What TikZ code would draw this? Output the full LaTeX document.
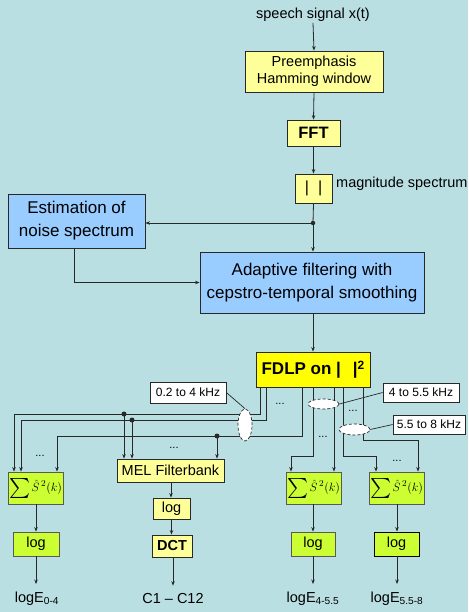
\documentclass[tikz,border=0pt]{standalone}
\usepackage{fontspec}
\setmainfont{Liberation Sans}
\usetikzlibrary{arrows.meta,calc,shapes.geometric}
\definecolor{bgc}{RGB}{186,223,227}
\definecolor{ylight}{RGB}{255,255,153}
\definecolor{ybright}{RGB}{255,255,0}
\definecolor{bluebox}{RGB}{153,204,255}
\definecolor{greenbox}{RGB}{204,255,51}
\definecolor{linec}{RGB}{40,40,40}
\begin{document}
\begin{tikzpicture}[x=1pt,y=-1pt,
  box/.style={draw=linec, line width=0.8pt, inner sep=0pt, align=center, font=\fontsize{14.5}{17.5}\selectfont},
  ybox/.style={box, fill=ylight},
  bbox/.style={box, fill=bluebox, font=\fontsize{17}{23}\selectfont},
  gbox/.style={box, fill=greenbox, draw=black!65},
  plain/.style={inner sep=1pt, font=\fontsize{14.5}{17.5}\selectfont},
  outlbl/.style={inner xsep=1pt, inner ysep=8pt, font=\fontsize{14.5}{17.5}\selectfont},
  arr/.style={-{Stealth[length=4.5pt,width=3.5pt]}, line width=0.8pt, draw=linec},
  ln/.style={line width=0.8pt, draw=linec},
  khz/.style={draw=linec, fill=white, line width=0.7pt, inner sep=0pt, font=\fontsize{12}{14}\selectfont},
  ell/.style={ellipse, draw=linec, densely dashed, fill=white, line width=0.7pt, inner sep=0pt},
  dts/.style={inner sep=0pt, font=\fontsize{11}{12}\selectfont},
  jdot/.style={circle, fill=linec, inner sep=0pt, minimum size=5pt}]
\useasboundingbox (0,0) rectangle (468,612);
\fill[bgc] (0,0) rectangle (468,612);

% top chain
\node[plain] (sig) at (313,15) {speech signal x(t)};
\node[ybox, minimum width=138, minimum height=41] (pre) at (314,71.5) {Preemphasis\\Hamming window};
\node[ybox, minimum width=53, minimum height=26, font=\fontsize{16.5}{20}\selectfont\bfseries] (fft) at (313.5,133) {FFT};
\node[ybox, minimum width=37, minimum height=29, font=\fontsize{16}{18}\selectfont] (mag) at (313.5,188.5) {|\hspace{9pt}|};
\node[plain, anchor=west] (magl) at (335,184) {magnitude spectrum};
\node[bbox, minimum width=137, minimum height=54] (est) at (76.5,221) {Estimation of\\noise spectrum};
\node[bbox, minimum width=224, minimum height=61] (ada) at (312,282.5) {Adaptive filtering with\\cepstro-temporal smoothing};
\node[box, fill=ybright, minimum width=114, minimum height=35, font=\fontsize{17}{20}\selectfont\bfseries] (fdlp) at (313,369.5) {FDLP on |\hspace{12pt}|\raisebox{5pt}{\fontsize{12}{12}\selectfont 2}};

\draw[arr] (sig.south) -- (pre.north);
\draw[arr] (pre.south) -- (fft.north);
\draw[arr] (fft.south) -- (mag.north);
\coordinate (j1) at (313,223);
\draw[ln] (mag.south) -- (j1);
\draw[arr] (j1) -- (ada.north -| j1);
\draw[arr] (j1) -- (est.east |- j1);
\node[jdot, minimum size=4.5pt] at (j1) {};
\draw[arr] (est.south -| 74,0) |- (ada.west);
\draw[arr] (ada.south -| 313,0) -- (fdlp.north -| 313,0);

% bottom boxes
\newcommand{\sumexpr}{\raisebox{-4pt}{\scalebox{2.0}{$\sum$}}\hspace{1.5pt}{\fontsize{12.5}{14}\selectfont$\hat{S}^{\,2}(k)$}}
\node[gbox, minimum width=55, minimum height=32] (s1) at (35.5,488) {\sumexpr};
\node[gbox, minimum width=55, minimum height=32] (s2) at (313.5,488) {\sumexpr};
\node[gbox, minimum width=55, minimum height=32] (s3) at (396.5,488) {\sumexpr};
\node[ybox, minimum width=107, minimum height=23] (mel) at (170.5,470.5) {MEL Filterbank};
\node[ybox, minimum width=37, minimum height=21] (mlog) at (171.5,508.5) {log};
\node[ybox, minimum width=40, minimum height=22, font=\fontsize{14.5}{17}\selectfont\bfseries] (dct) at (172,546) {DCT};
\node[gbox, minimum width=46, minimum height=24] (l1) at (36,544) {log};
\node[gbox, minimum width=44, minimum height=24] (l2) at (313,544) {log};
\node[gbox, minimum width=45, minimum height=24, draw=black] (l3) at (396.5,544) {log};

\node[outlbl] (o1) at (37,599) {logE\textsubscript{0-4}};
\node[outlbl] (o2) at (173,599) {C1 -- C12};
\node[outlbl] (o3) at (313,599) {logE\textsubscript{4-5.5}};
\node[outlbl] (o4) at (397,599) {logE\textsubscript{5.5-8}};

\draw[arr] (s1.south -| 36,0) -- (l1.north -| 36,0);
\draw[arr] (s2.south -| 313,0) -- (l2.north -| 313,0);
\draw[arr] (s3.south -| 397,0) -- (l3.north -| 397,0);
\draw[arr] (mel.south -| 171,0) -- (mlog.north -| 171,0);
\draw[arr] (mlog.south -| 171.5,0) -- (dct.north -| 171.5,0);
\draw[arr] (l1.south -| 36,0) -- (o1.north -| 36,0);
\draw[arr] (dct.south -| 173,0) -- (o2.north -| 173,0);
\draw[arr] (l2.south -| 313,0) -- (o3.north -| 313,0);
\draw[arr] (l3.south -| 397,0) -- (o4.north -| 397,0);

% branch lines left group
\draw[arr] (fdlp.south -| 260,0) |- (14,414) -- (s1.north -| 14,0);
\draw[arr] (fdlp.south -| 266,0) |- (21,420) -- (s1.north -| 21,0);
\draw[arr] (fdlp.south -| 302,0) |- (57,436) -- (s1.north -| 57,0);
\coordinate (d1) at (124,414);
\coordinate (d2) at (132,420);
\coordinate (d3) at (217,436);
\draw[arr] (d1) -- (mel.north -| d1);
\draw[arr] (d2) -- (mel.north -| d2);
\draw[arr] (d3) -- (mel.north -| d3);
\node[jdot] at (d1) {};
\node[jdot] at (d2) {};
\node[jdot] at (d3) {};

% branch lines right group
\draw[arr] (fdlp.south -| 313,0) |- (291,456) -- (s2.north -| 291,0);
\draw[arr] (fdlp.south -| 334,0) -- (s2.north -| 334,0);
\draw[arr] (fdlp.south -| 343,0) |- (376,456) -- (s3.north -| 376,0);
\draw[arr] (fdlp.south -| 363,0) |- (418,440) -- (s3.north -| 418,0);

% dots
\node[dts] (dA) at (280,404) {...};
\node[dts] (dB) at (40,456) {...};
\node[dts] (dC) at (174,448) {...};
\node[dts] (dD) at (323,437) {...};
\node[dts] (dE) at (353,411) {...};
\node[dts] (dF) at (397,461) {...};

% ellipses and labels
\node[ell, minimum width=14, minimum height=32] (e1) at (245,425) {};
\node[ell, minimum width=31, minimum height=10] (e2) at (323.5,404) {};
\node[ell, minimum width=31, minimum height=11] (e3) at (354.5,429.5) {};
\node[khz, minimum width=76, minimum height=21] (k1) at (188,392.5) {0.2 to 4 kHz};
\node[khz, minimum width=76, minimum height=19] (k2) at (421,392.5) {4 to 5.5 kHz};
\node[khz, minimum width=72, minimum height=19] (k3) at (429,424.5) {5.5 to 8 kHz};
\draw[ln, line width=0.7pt] (k1.east) -- (e1.north);
\draw[ln, line width=0.7pt] (k2.west) -- (e2.east);
\draw[ln, line width=0.7pt] (k3.west) -- (e3.east);
\end{tikzpicture}
\end{document}
